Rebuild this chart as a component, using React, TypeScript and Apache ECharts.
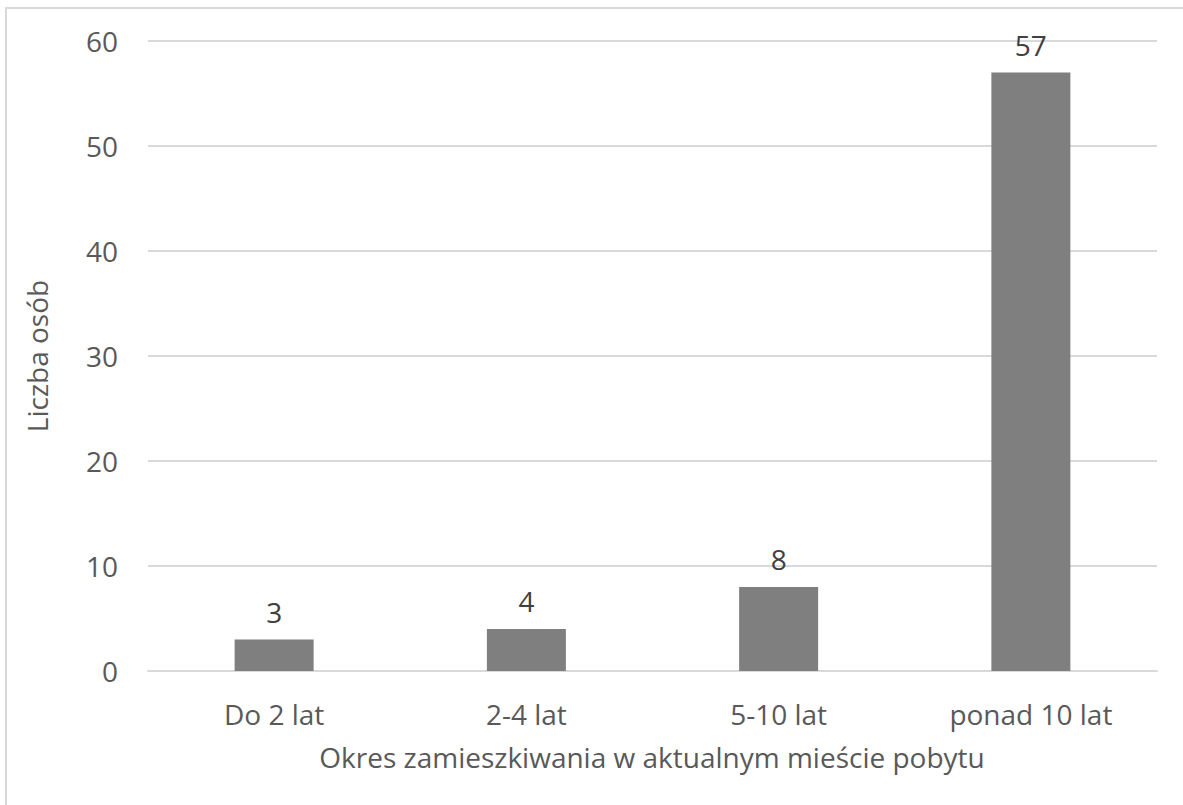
import React, { useEffect, useRef } from "react";
import * as echarts from "echarts";

const categories = ["Do 2 lat", "2-4 lat", "5-10 lat", "ponad 10 lat"];
const values = [3, 4, 8, 57];
const xAxisTitle = "Okres zamieszkiwania w aktualnym mieście pobytu";
const yAxisTitle = "Liczba osób";

export default function App() {
  const ref = useRef<HTMLDivElement>(null);
  useEffect(() => {
    document.body.style.margin = "0";
    const chart = echarts.init(ref.current!, null, { renderer: "svg" });
    const font = "'Open Sans', 'DejaVu Sans', sans-serif";
    chart.setOption({
      animation: false,
      backgroundColor: "#ffffff",
      grid: { left: 148, right: 26, top: 41, bottom: 134, containLabel: false },
      xAxis: {
        type: "category",
        data: categories,
        axisLine: { show: true, lineStyle: { color: "#d9d9d9", width: 2 } },
        axisTick: { show: false },
        axisLabel: { color: "#595959", fontSize: 28, fontFamily: font, margin: 29 },
      },
      yAxis: {
        type: "value",
        min: 0,
        max: 60,
        interval: 10,
        axisLine: { show: false },
        axisTick: { show: false },
        splitLine: { lineStyle: { color: "#d9d9d9", width: 2 } },
        axisLabel: { color: "#595959", fontSize: 28, fontFamily: font, margin: 30 },
      },
      series: [
        {
          type: "bar",
          data: values,
          barWidth: 79,
          itemStyle: { color: "#7f7f7f" },
          label: {
            show: true,
            position: "top",
            distance: 14,
            color: "#404040",
            fontSize: 28,
            fontFamily: font,
          },
        },
      ],
      graphic: [
        {
          type: "rect",
          shape: { x: 6, y: 8, width: 1200, height: 820 },
          style: { fill: "none", stroke: "#d9d9d9", lineWidth: 2 },
          silent: true,
        },
        {
          type: "text",
          x: 652,
          y: 757,
          style: {
            text: xAxisTitle,
            fill: "#595959",
            fontSize: 28,
            fontFamily: font,
            textAlign: "center",
            textVerticalAlign: "middle",
          },
        },
        {
          type: "text",
          x: 37,
          y: 356,
          rotation: Math.PI / 2,
          style: {
            text: yAxisTitle,
            fill: "#595959",
            fontSize: 28,
            fontFamily: font,
            textAlign: "center",
            textVerticalAlign: "middle",
          },
        },
      ],
    });
    return () => chart.dispose();
  }, []);
  return <div ref={ref} style={{ width: 1183, height: 805 }} />;
}
